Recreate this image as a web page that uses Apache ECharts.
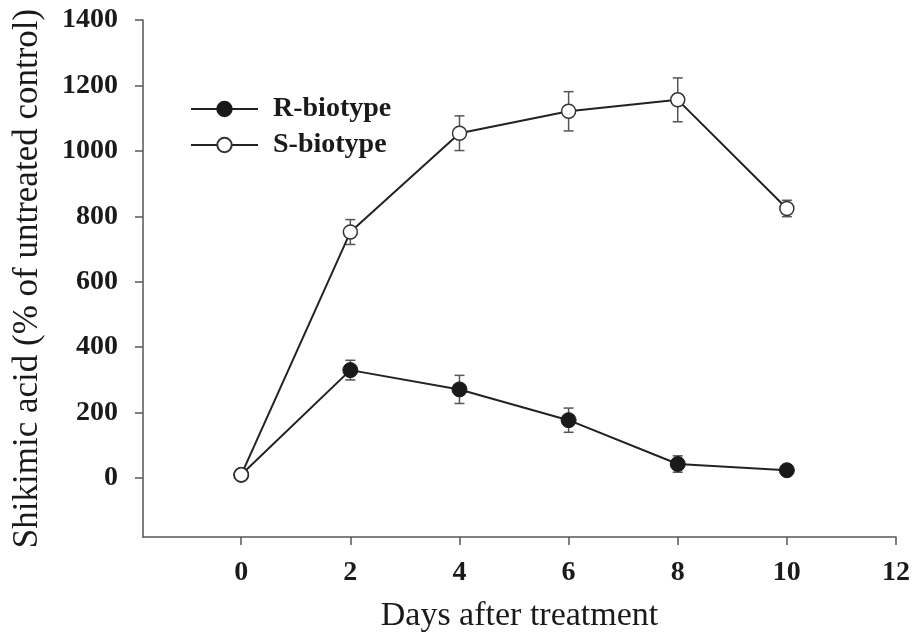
<!DOCTYPE html>
<html>
<head>
<meta charset="utf-8">
<script src="https://cdn.jsdelivr.net/npm/echarts@6/dist/echarts.min.js"></script>
<style>
html,body{margin:0;padding:0;background:#fff;}
#chart{width:913px;height:638px;}
</style>
</head>
<body>
<div id="chart"></div>
<script>
var days = [0, 2, 4, 6, 8, 10];
var rValues = [10, 330, 271, 177, 43, 24];
var rErrors = [0, 30, 43, 37, 25, 6];
var sValues = [10, 752, 1054, 1121, 1156, 824];
var sErrors = [0, 38, 53, 60, 67, 25];
var xTicks = [0, 2, 4, 6, 8, 10, 12];
var yTicks = [0, 200, 400, 600, 800, 1000, 1200, 1400];

var FONT = '"Liberation Serif", "Times New Roman", serif';

function pairs(vals) { return days.map(function (d, i) { return [d, vals[i]]; }); }
function errData(vals, errs) {
  var out = [];
  days.forEach(function (d, i) { if (errs[i] > 0) out.push([d, vals[i] - errs[i], vals[i] + errs[i]]); });
  return out;
}
function renderErr(params, api) {
  var x = api.value(0);
  var lo = api.coord([x, api.value(1)]);
  var hi = api.coord([x, api.value(2)]);
  var hw = 5;
  var st = { stroke: '#555', lineWidth: 1.5 };
  return {
    type: 'group',
    children: [
      { type: 'line', shape: { x1: lo[0], y1: lo[1], x2: hi[0], y2: hi[1] }, style: st },
      { type: 'line', shape: { x1: lo[0] - hw, y1: lo[1], x2: lo[0] + hw, y2: lo[1] }, style: st },
      { type: 'line', shape: { x1: hi[0] - hw, y1: hi[1], x2: hi[0] + hw, y2: hi[1] }, style: st }
    ]
  };
}
function plain(v) { return String(v); }

var chart = echarts.init(document.getElementById('chart'));
chart.setOption({
  animation: false,
  backgroundColor: '#fff',
  grid: { left: 143, right: 17, top: 20, bottom: 98, containLabel: false },
  legend: {
    orient: 'vertical',
    left: 185,
    top: 89,
    itemWidth: 67,
    itemHeight: 18,
    itemGap: 6,
    data: ['R-biotype', 'S-biotype'],
    textStyle: { fontFamily: FONT, fontSize: 28, fontWeight: 'bold', color: '#1a1a1a', lineHeight: 30, padding: [0, 0, 0, 10] }
  },
  xAxis: {
    type: 'value',
    min: -1.8,
    max: 12,
    axisLine: { show: true, onZero: false, lineStyle: { color: '#555', width: 1.5 } },
    axisTick: { show: true, length: 8, customValues: xTicks, lineStyle: { color: '#555', width: 1.5 } },
    axisLabel: { customValues: xTicks, formatter: plain, margin: 22, fontFamily: FONT, fontSize: 28, fontWeight: 'bold', color: '#1a1a1a' },
    splitLine: { show: false },
    name: 'Days after treatment',
    nameLocation: 'middle',
    nameGap: 62,
    nameTextStyle: { fontFamily: FONT, fontSize: 34, color: '#1a1a1a' }
  },
  yAxis: {
    type: 'value',
    min: -180,
    max: 1400,
    axisLine: { show: true, onZero: false, lineStyle: { color: '#555', width: 1.5 } },
    axisTick: { show: true, length: 8, customValues: yTicks, lineStyle: { color: '#555', width: 1.5 } },
    axisLabel: { customValues: yTicks, formatter: plain, margin: 25, fontFamily: FONT, fontSize: 28, fontWeight: 'bold', color: '#1a1a1a' },
    splitLine: { show: false },
    name: 'Shikimic acid (% of untreated control)',
    nameLocation: 'middle',
    nameGap: 98,
    nameTextStyle: { fontFamily: FONT, fontSize: 35, color: '#1a1a1a' }
  },
  series: [
    { type: 'custom', name: 'R-err', renderItem: renderErr, data: errData(rValues, rErrors), z: 1, silent: true },
    { type: 'custom', name: 'S-err', renderItem: renderErr, data: errData(sValues, sErrors), z: 1, silent: true },
    {
      type: 'line', name: 'R-biotype', data: pairs(rValues), z: 3,
      symbol: 'circle', symbolSize: 15,
      lineStyle: { color: '#222', width: 2 },
      itemStyle: { color: '#1a1a1a', borderColor: '#1a1a1a', borderWidth: 1 }
    },
    {
      type: 'line', name: 'S-biotype', data: pairs(sValues), z: 4,
      symbol: 'circle', symbolSize: 14,
      lineStyle: { color: '#222', width: 2 },
      itemStyle: { color: '#fff', borderColor: '#333', borderWidth: 1.5 }
    }
  ]
});
</script>
</body>
</html>
